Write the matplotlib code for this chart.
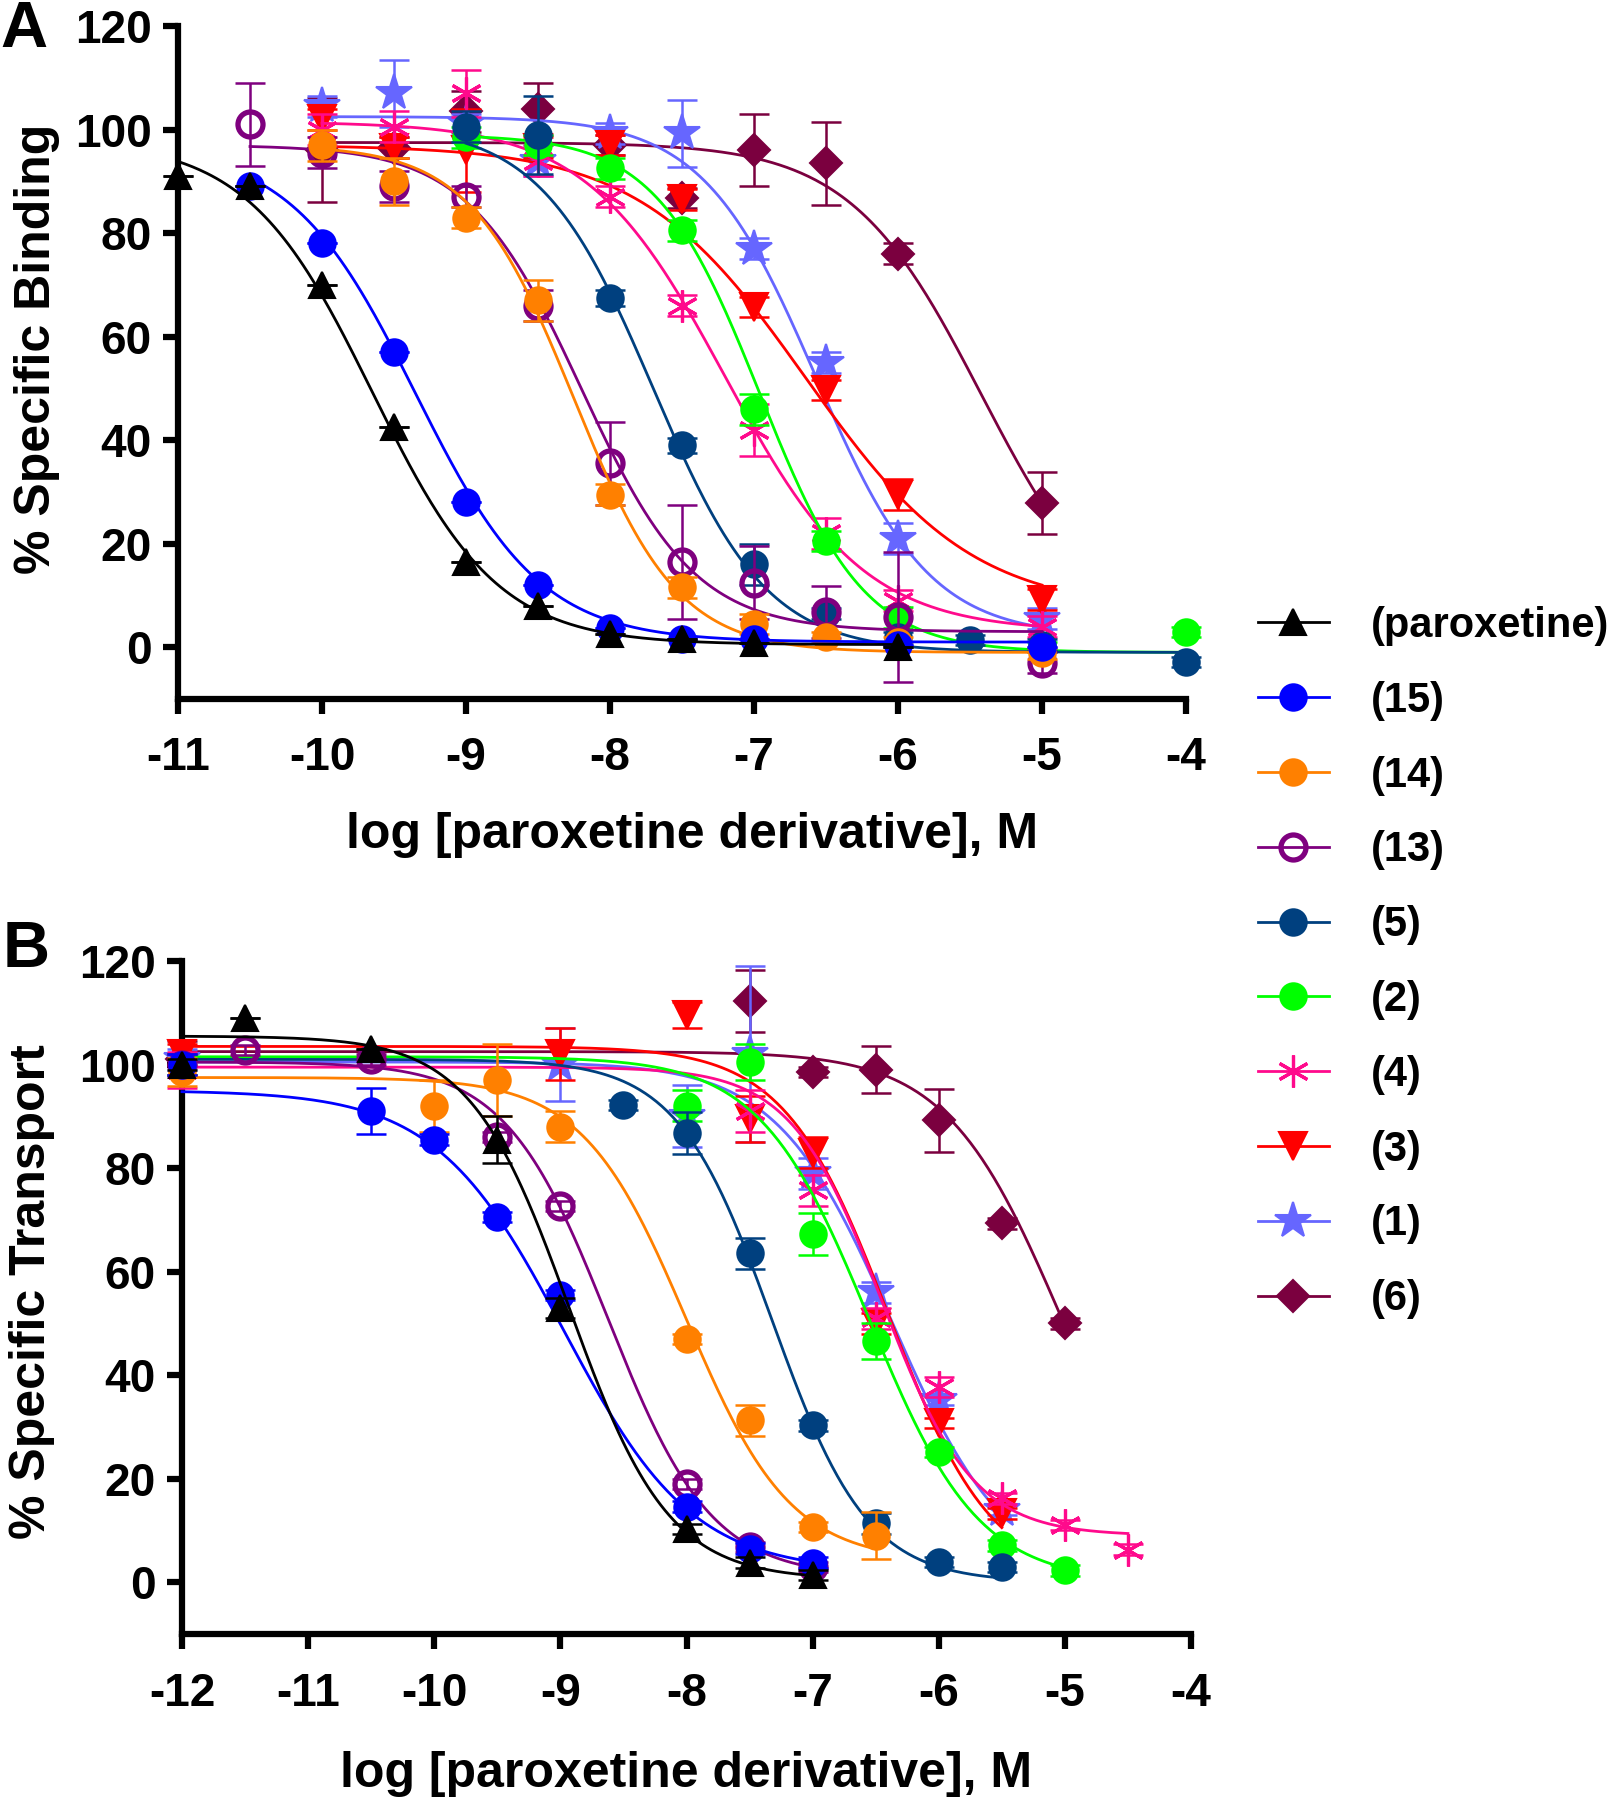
import numpy as np
import matplotlib
matplotlib.use("Agg")
import matplotlib.pyplot as plt
from matplotlib.lines import Line2D

plt.rcParams['font.family'] = ['Liberation Sans', 'DejaVu Sans']
plt.rcParams['font.weight'] = 'bold'
plt.rcParams['axes.unicode_minus'] = False

# series names, colours, markers (legend order)
names = ["(paroxetine)", "(15)", "(14)", "(13)", "(5)", "(2)", "(4)", "(3)", "(1)", "(6)"]
colors = ["#000000", "#0000ff", "#ff8000", "#7f007f", "#00407f",
          "#00ff00", "#ff0a8c", "#ff0000", "#6666ff", "#7b003f"]
markers = ["^", "o", "o", "o", "o", "o", (6, 2, 0), "v", "*", "D"]

# ---------- panel A : binding ----------
a_x = [
    [-11, -10.5, -10, -9.5, -9, -8.5, -8, -7.5, -7, -6],
    [-10.5, -10, -9.5, -9, -8.5, -8, -7.5, -7, -6, -5],
    [-10, -9.5, -9, -8.5, -8, -7.5, -7, -6.5, -6, -5],
    [-10.5, -10, -9.5, -9, -8.5, -8, -7.5, -7, -6.5, -6, -5],
    [-9, -8.5, -8, -7.5, -7, -6.5, -6, -5.5, -5, -4],
    [-9, -8.5, -8, -7.5, -7, -6.5, -6, -5, -4],
    [-10, -9.5, -9, -8.5, -8, -7.5, -7, -6.5, -6, -5],
    [-10, -9.5, -9, -8.5, -8, -7.5, -7, -6.5, -6, -5],
    [-10, -9.5, -9, -8.5, -8, -7.5, -7, -6.5, -6, -5],
    [-10, -9.5, -9, -8.5, -8, -7.5, -7, -6.5, -6, -5],
]
a_y = [
    [91, 89, 70, 42.5, 16.5, 8, 2.5, 1.5, 0.8, 0],
    [89, 78, 57, 28, 12, 3.8, 1.5, 1.5, 0.5, 0],
    [97, 90, 83, 67, 29.5, 11.6, 4.5, 1.9, 1, -1.2],
    [101, 95.5, 89, 87, 66, 35.5, 16.5, 12.5, 6.8, 5.8, -3],
    [100.5, 99, 67.5, 39, 16, 6.5, 2, 1.4, 0.5, -2.9],
    [98.5, 97, 92.5, 80.5, 46, 20.5, 5.8, 0, 2.9],
    [100, 100.5, 107, 94, 87, 66, 42, 22, 9, 4],
    [102, 96.5, 96, 96.5, 97, 86.5, 65.7, 49.7, 29.5, 9.2],
    [104.5, 107, 101, 94, 99.3, 99.3, 77, 55, 21, 5.5],
    [96, 96.5, 103.5, 104, 97, 86.8, 96, 93.5, 76, 27.8],
]
a_err = [
    [0, 0, 0, 0, 0, 0, 0, 0, 0, 0],
    [0, 0, 0, 0, 0, 0, 0, 0, 0, 0],
    [3, 4.5, 2, 4, 2, 2, 2, 1, 1, 1],
    [8, 3, 3, 2, 3, 8, 11, 7, 5, 12.5, 2],
    [3, 7.5, 1.5, 1.5, 4, 1, 1, 1, 1, 1],
    [2, 2, 2, 2, 3, 2, 2, 1, 1],
    [3, 3, 4.5, 3, 2, 2, 5, 3, 2, 2],
    [2, 2, 8, 2, 2, 2, 2, 2, 3, 2],
    [2, 6.5, 2, 3, 2, 6.5, 2, 2, 3, 2],
    [10, 2, 4, 5, 2, 2, 7, 8, 2, 6],
]
# fitted curve parameters: top, bottom, logIC50, hill
a_top = [98, 97, 97, 97, 101, 99, 101.5, 97, 102.5, 97.5]
a_bottom = [0.5, 1, -1, 3, -1, -1, 3, 7, 2, 0]
a_logic50 = [-9.65, -9.35, -8.25, -8.2, -7.7, -6.96, -7.2, -6.64, -6.57, -5.42]
a_hill = [1.0, 1.0, 1.2, 1.1, 1.1, 1.2, 0.9, 0.75, 1.1, 0.95]

# ---------- panel B : transport ----------
b_x = [
    [-12, -11.5, -10.5, -9.5, -9, -8, -7.5, -7],
    [-12, -10.5, -10, -9.5, -9, -8, -7.5, -7],
    [-12, -10, -9.5, -9, -8, -7.5, -7, -6.5],
    [-12, -11.5, -10.5, -9.5, -9, -8, -7.5, -7],
    [-12, -8.5, -8, -7.5, -7, -6.5, -6, -5.5],
    [-12, -8, -7.5, -7, -6.5, -6, -5.5, -5],
    [-12, -7.5, -7, -6.5, -6, -5.5, -5, -4.5],
    [-12, -9, -8, -7.5, -7, -6.5, -6, -5.5],
    [-12, -9, -8, -7.5, -7, -6.5, -6, -5.5],
    [-12, -7.5, -7, -6.5, -6, -5.5, -5],
]
b_y = [
    [100, 109, 103, 85.5, 53, 10.3, 3.8, 1.4],
    [100, 91, 85.5, 70.5, 55.5, 14.6, 6.5, 3.8],
    [98.5, 92, 97, 88, 47, 31.3, 10.7, 9],
    [100, 102.8, 101, 86, 72.7, 19, 6.8, 3],
    [100, 92.2, 86.8, 63.5, 30.3, 11.4, 3.9, 3],
    [100, 92, 100.5, 67.3, 46.6, 25.2, 7.1, 2.3],
    [99, 91, 75.7, 51, 37.7, 16.2, 11, 6.3],
    [102, 102, 109.5, 89.5, 83, 50, 30.7, 13.3],
    [101, 100, 90, 102, 79, 56, 35.2, 14],
    [101, 112.3, 98.6, 99, 89.2, 69.3, 50],
]
b_err = [
    [1, 0, 0, 4.5, 2, 1, 1, 1],
    [2, 4.5, 1, 1, 1, 1, 1, 1],
    [2.7, 5, 7, 3, 1, 3, 1, 4.5],
    [2, 1, 1, 1, 1, 1, 1, 1],
    [2, 1, 4, 3, 1, 2, 1, 1],
    [2, 3, 3.5, 4, 3.5, 1, 1, 1],
    [3.5, 4, 3, 2, 2, 1, 1, 1],
    [2, 5, 2.5, 4.5, 3, 2, 1, 1],
    [2, 7, 6, 17, 3, 2, 1, 1],
    [3.5, 6, 1, 4.5, 6, 1, 1],
]
b_top = [105.5, 95, 97.5, 100.5, 101, 101.5, 99.5, 103.5, 100.5, 102.5]
b_bottom = [0.5, 2, 4, 1, 0, 0, 9, 0, 0, 0]
b_logic50 = [-8.93, -8.97, -8.0, -8.62, -7.32, -6.55, -6.45, -6.4, -6.37, -5.03]
b_hill = [1.1, 0.85, 1.05, 1.06, 1.15, 1.0, 1.2, 1.05, 0.95, 0.95]


def sigmoid(x, top, bottom, logic50, hill):
    return bottom + (top - bottom) / (1 + 10 ** ((x - logic50) * hill))


def marker_style(i):
    st = dict(marker=markers[i], color=colors[i], mec=colors[i], mfc=colors[i],
              ms=19, mew=1.5)
    if names[i] == "(13)":
        st.update(mfc="none", ms=18, mew=3.8)
    elif markers[i] == "*":
        st.update(ms=27)
    elif markers[i] == "D":
        st.update(ms=16)
    elif markers[i] == "v":
        st.update(ms=20)
    elif markers[i] == "^":
        st.update(ms=19)
    elif isinstance(markers[i], tuple):
        st.update(ms=23, mew=2.3)
    return st


def draw_panel(ax, xs, ys, errs, tops, bottoms, ics, hills, xlim):
    for i in range(len(names)):
        x = np.array(xs[i])
        xc = np.linspace(x.min(), x.max(), 300)
        yc = sigmoid(xc, tops[i], bottoms[i], ics[i], hills[i])
        z = 20 - i
        ax.plot(xc, yc, color=colors[i], lw=2.0, zorder=z - 0.5, clip_on=False)
        ax.errorbar(xs[i], ys[i], yerr=errs[i], fmt="none", ecolor=colors[i],
                    elinewidth=1.8, capsize=11, capthick=1.8, zorder=z - 0.2,
                    clip_on=False)
        ax.plot(xs[i], ys[i], linestyle="none", zorder=z, clip_on=False,
                **marker_style(i))

    ax.set_xlim(*xlim)
    ax.set_ylim(-10, 120)
    ax.set_xticks(range(xlim[0], xlim[1] + 1))
    ax.set_yticks(range(0, 121, 20))
    for s in ["top", "right"]:
        ax.spines[s].set_visible(False)
    for s in ["left", "bottom"]:
        ax.spines[s].set_linewidth(4.5)
    ax.tick_params(direction="out", length=11, width=4.5, labelsize=33)
    ax.tick_params(axis="x", pad=16)
    ax.tick_params(axis="y", pad=8)
    for lab in ax.get_xticklabels() + ax.get_yticklabels():
        lab.set_fontweight("bold")


fig = plt.figure(figsize=(16.1, 18), dpi=100)

axA = fig.add_axes([178 / 1610, (1800 - 699) / 1800, 1008 / 1610, 673 / 1800])
draw_panel(axA, a_x, a_y, a_err, a_top, a_bottom, a_logic50, a_hill, (-11, -4))
axA.set_xlabel("log [paroxetine derivative], M", fontsize=36, fontweight="bold", va="center")
axA.xaxis.set_label_coords(0.51, -0.202)
axA.set_ylabel("% Specific Binding", fontsize=36, fontweight="bold", va="center")
axA.yaxis.set_label_coords(-0.14, 0.52)

axB = fig.add_axes([182 / 1610, (1800 - 1634) / 1800, 1009 / 1610, 673 / 1800])
draw_panel(axB, b_x, b_y, b_err, b_top, b_bottom, b_logic50, b_hill, (-12, -4))
axB.set_xlabel("log [paroxetine derivative], M", fontsize=36, fontweight="bold", va="center")
axB.xaxis.set_label_coords(0.5, -0.208)
axB.set_ylabel("% Specific Transport", fontsize=36, fontweight="bold", va="center")
axB.yaxis.set_label_coords(-0.149, 0.508)

fig.text(0 / 1610, 1 - 0 / 1800, "A", fontsize=47, fontweight="bold", va="top", ha="left")
fig.text(3 / 1610, 1 - 920 / 1800, "B", fontsize=47, fontweight="bold", va="top", ha="left")

handles = []
for i in range(len(names)):
    handles.append(Line2D([0], [0], lw=2.0, **marker_style(i)))
fig.legend(handles, names, loc="upper left", bbox_to_anchor=(1258 / 1610, 1 - 606 / 1800),
           frameon=False, fontsize=30, handlelength=1.7, handletextpad=1.0,
           labelspacing=0.835, borderpad=0, borderaxespad=0)

fig.savefig("out.png", dpi=100)
